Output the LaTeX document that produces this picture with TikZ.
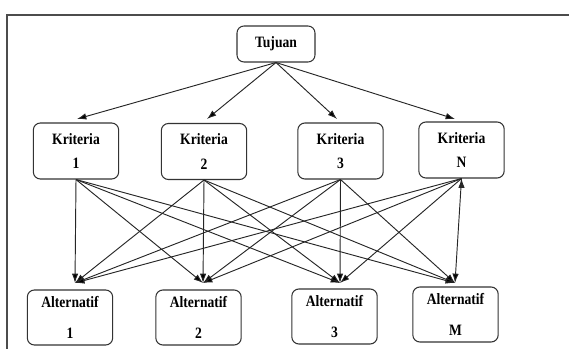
\documentclass[tikz,border=0pt]{standalone}
\usepackage{fontspec}
\setmainfont{Liberation Serif}[FakeStretch=0.86]
\usetikzlibrary{arrows.meta}
\begin{document}
\begin{tikzpicture}[x=0.03cm,y=-0.03cm,
  main node/.style={draw=black!80,rounded corners=6pt,line width=0.9pt,align=center,inner sep=1pt,
    font=\bfseries\fontsize{13.5}{15}\selectfont,minimum width=2.56cm,minimum height=1.68cm},
  goal node/.style={main node,minimum width=2.34cm,minimum height=1.08cm}]
  \useasboundingbox (0,0) rectangle (569,349);
  \draw[black!70,line width=1.2pt] (7,349) -- (7,15) -- (569,15);

  \node[goal node] (tuj) at (276,44) {Tujuan};
  \node[main node] (k1) at (76,151) {Kriteria\\[6pt]1};
  \node[main node] (k2) at (204,151.5) {Kriteria\\[6pt]2};
  \node[main node] (k3) at (340.5,151) {Kriteria\\[6pt]3};
  \node[main node] (k4) at (461.5,150) {Kriteria\\[6pt]N};
  \node[main node,minimum height=1.65cm] (a1) at (70,317.5) {Alternatif\\[12pt]1};
  \node[main node,minimum height=1.65cm] (a2) at (198.5,317.5) {Alternatif\\[12pt]2};
  \node[main node,minimum height=1.65cm] (a3) at (334.5,316.5) {Alternatif\\[12pt]3};
  \node[main node,minimum height=1.65cm] (a4) at (455.5,314.5) {Alternatif\\[12pt]M};

  % arrow tips
  \coordinate (q1) at (77,119);
  \coordinate (q2) at (207,119);
  \coordinate (q3) at (337,119);
  \coordinate (q4) at (455,119);
  \coordinate (p1) at (75,283);
  \coordinate (p2) at (203,283);
  \coordinate (p3) at (340,283);
  \coordinate (p4) at (455,283);

  \path[-{Latex[length=8pt,width=5.5pt]},line width=0.8pt,draw=black!85]
   (tuj.south) edge (q1)
   (tuj.south) edge (q2)
   (tuj.south) edge (q3)
   (tuj.south) edge (q4)
   (k1.south) edge (p1)
   (k1.south) edge (p2)
   (k1.south) edge (p3)
   (k1.south) edge (p4)
   (k2.south) edge (p1)
   (k2.south) edge (p2)
   (k2.south) edge (p3)
   (k2.south) edge (p4)
   (k3.south) edge (p1)
   (k3.south) edge (p2)
   (k3.south) edge (p3)
   (k3.south) edge (p4)
   (k4.south) edge (p1)
   (k4.south) edge (p2)
   (k4.south) edge (p3)
   (k4.south) edge (p4);
\end{tikzpicture}
\end{document}
